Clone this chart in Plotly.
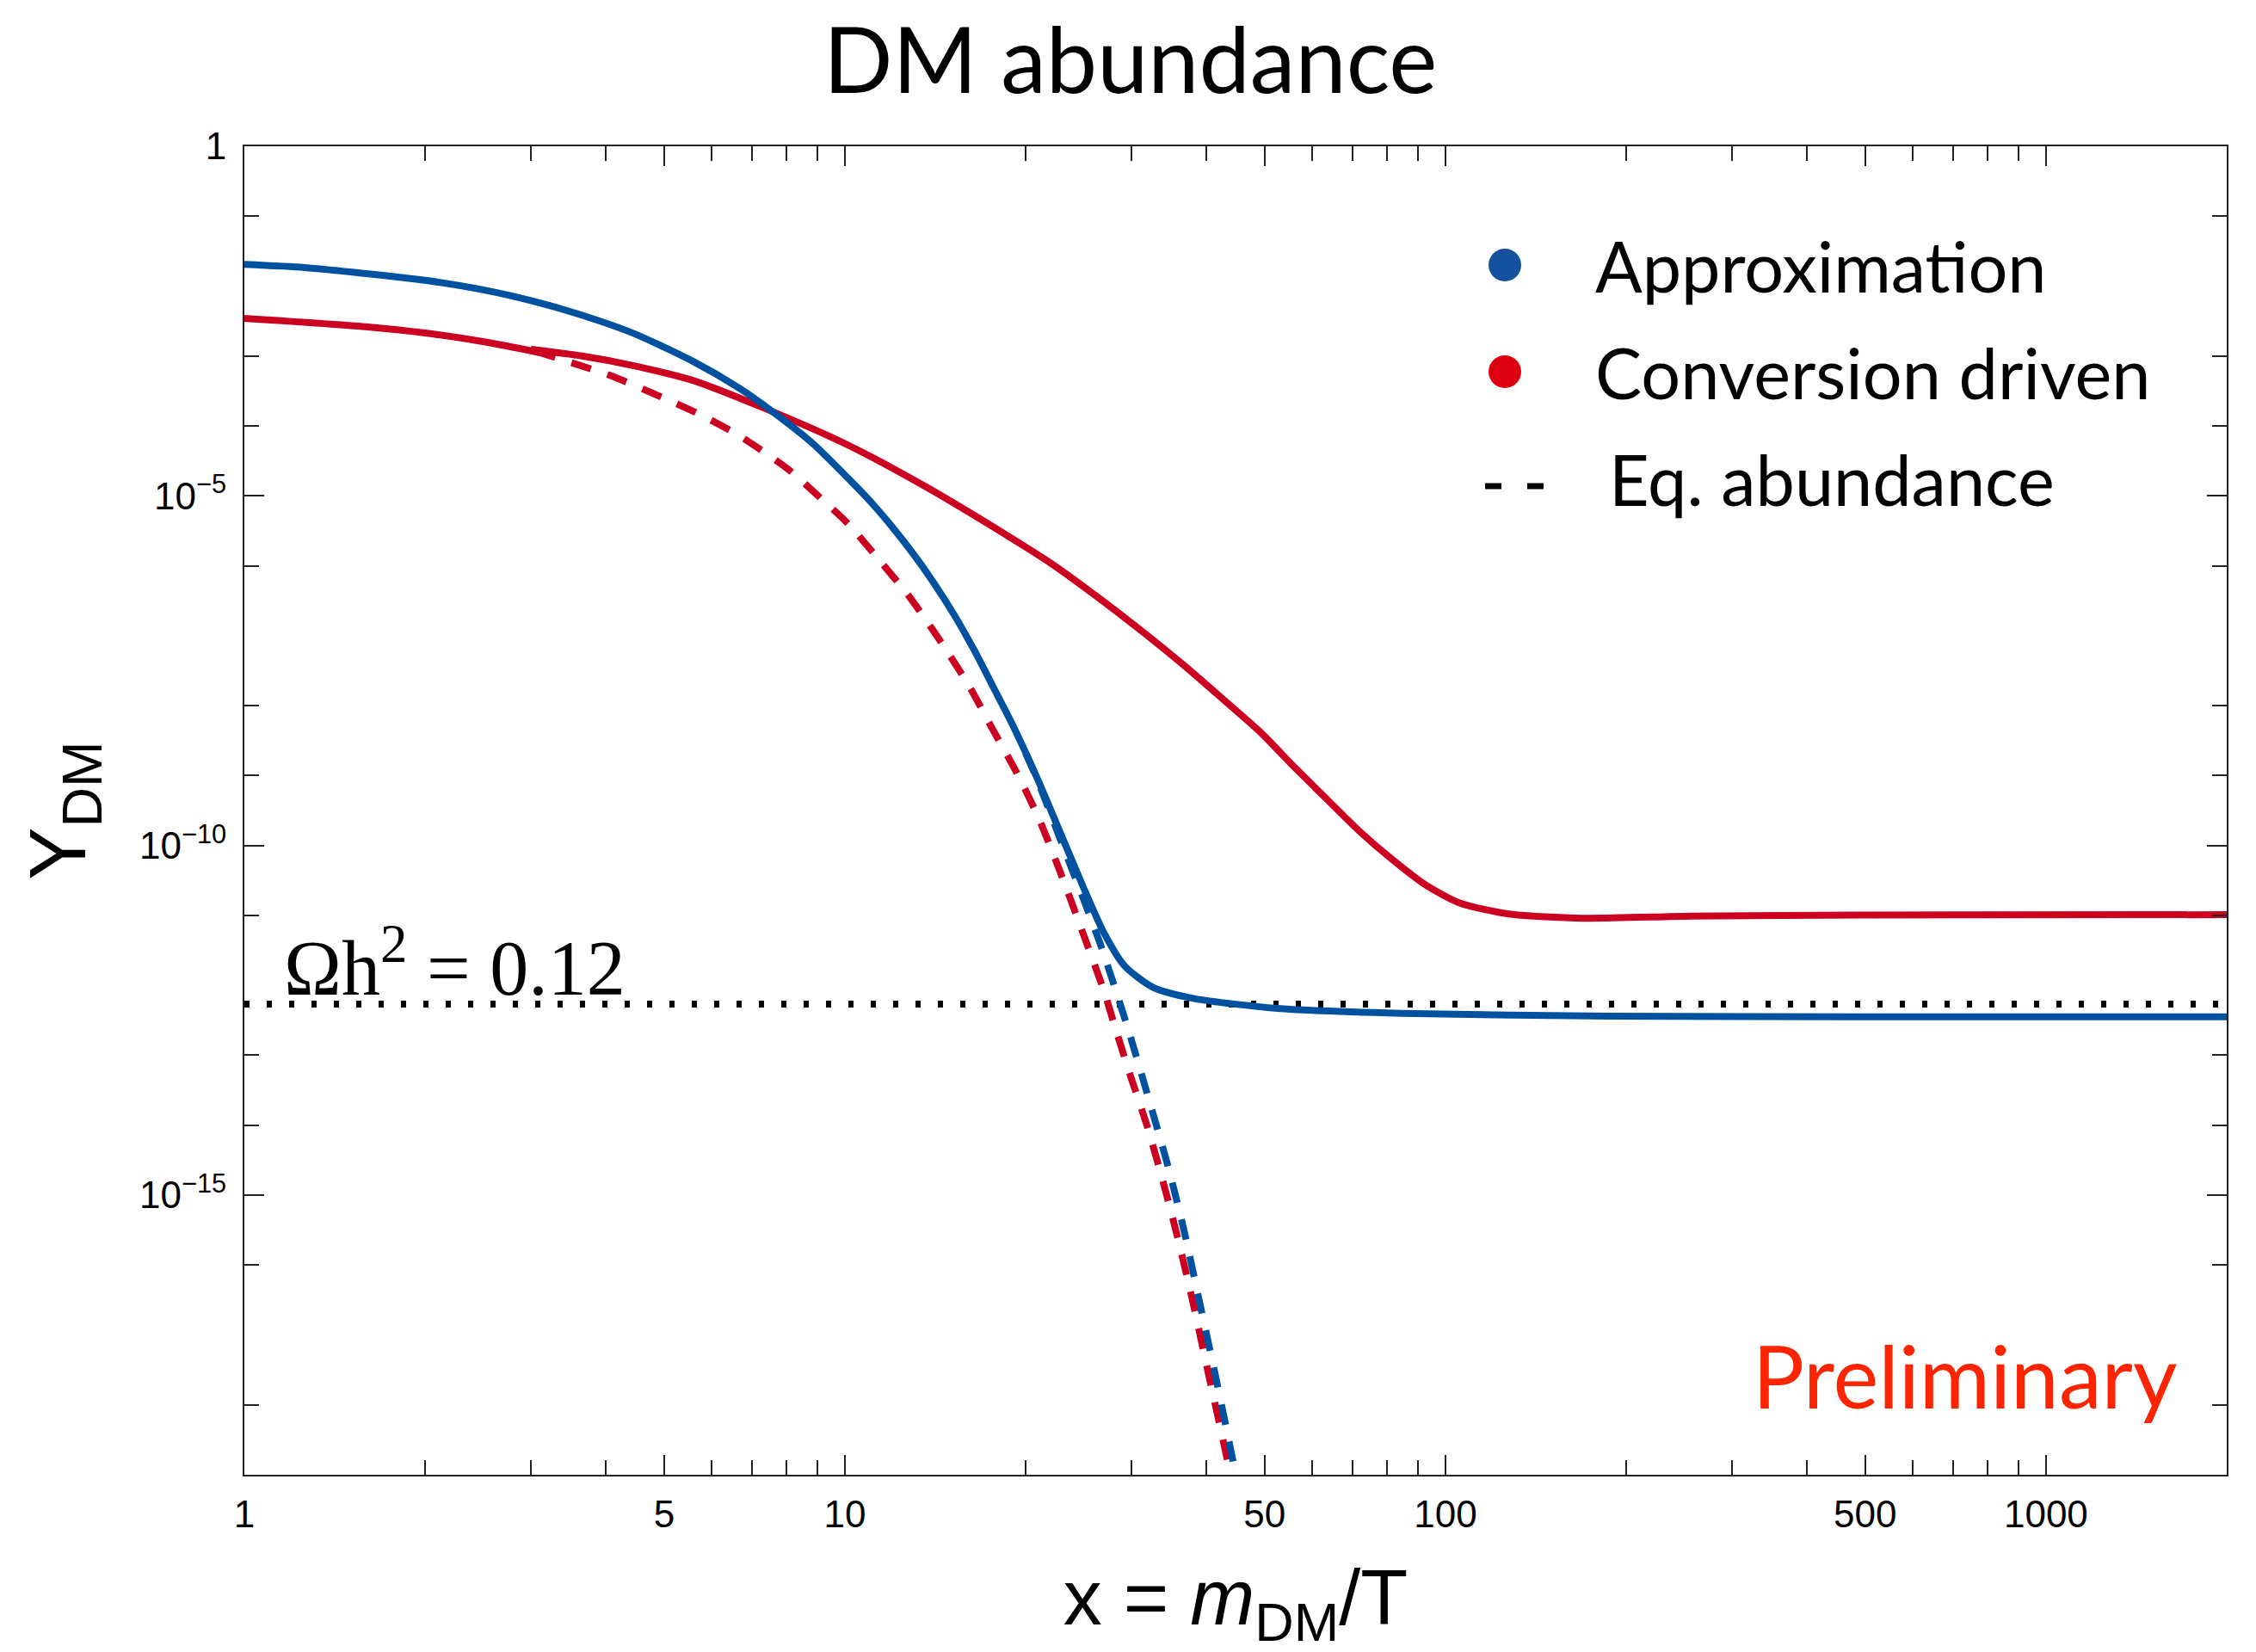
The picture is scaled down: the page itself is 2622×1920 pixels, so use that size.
import numpy as np
import plotly.graph_objects as go

# ---- data: x = m_DM / T, values given as log10(Y_DM) ----
# Approximation (solution)
approx_x = [1.0, 1.26, 1.59, 2.0, 2.52, 3.04, 3.57, 4.4, 5.54, 6.67, 7.48, 8.81,
            10.1, 11.0, 11.9, 13.0, 14.0, 15.2, 16.45, 17.7, 19.03, 20.93, 23.0,
            24.9, 27.0, 29.2, 32.6, 38.2, 52.5, 84.4, 186.5, 500.0, 2000.0]
approx_logy = [-1.69, -1.735, -1.82, -1.917, -2.06, -2.22, -2.39, -2.66, -3.06, -3.46,
               -3.76, -4.24, -4.74, -5.07, -5.41, -5.83, -6.22, -6.70, -7.22, -7.75,
               -8.28, -9.05, -9.88, -10.58, -11.25, -11.72, -12.03, -12.19, -12.33,
               -12.40, -12.44, -12.45, -12.45]

# Approximation, equilibrium abundance
approx_eq_x = [20.0, 21.0, 23.0, 25.0, 26.6, 28.2, 29.9, 32.2, 34.7, 36.8, 39.0,
               41.4, 44.2, 45.5]
approx_eq_logy = [-8.68, -9.10, -9.98, -10.78, -11.40, -12.05, -12.74, -13.68,
                  -14.66, -15.55, -16.55, -17.58, -18.77, -19.35]

# Conversion driven: early part (tracks equilibrium) and solution
conv_early_x = [1.0, 1.59, 2.0, 2.52, 3.1]
conv_early_logy = [-2.46, -2.58, -2.67, -2.80, -2.95]
conv_x = [3.0, 3.65, 4.4, 5.54, 7.31, 10.1, 13.7, 18.9, 22.0, 26.1, 31.6,
          37.0, 42.0, 49.2, 55.9, 63.5, 72.0, 81.8, 92.9, 105.4, 127.5, 169.6,
          255.9, 483.0, 2000.0]
conv_logy = [-2.905, -3.0, -3.13, -3.34, -3.74, -4.27, -4.88, -5.60, -5.96,
             -6.42, -6.97, -7.45, -7.86, -8.38, -8.87, -9.34, -9.80, -10.21, -10.57,
             -10.82, -10.98, -11.04, -11.01, -10.995, -10.99]

# Conversion driven, equilibrium abundance
conv_eq_x = [3.05, 3.61, 4.10, 5.05, 5.81, 6.67, 8.02, 9.0, 10.1, 11.36, 12.75, 14.3,
             16.1, 17.6, 19.3, 21.0, 23.0, 25.1, 27.0, 28.2, 29.9, 31.8, 33.7, 35.7,
             37.9, 40.2, 43.6, 44.6]
conv_eq_logy = [-2.93, -3.13, -3.29, -3.62, -3.86, -4.14, -4.61, -4.99, -5.39, -5.90,
                -6.42, -7.03, -7.72, -8.33, -8.95, -9.60, -10.45, -11.33, -12.08,
                -12.61, -13.30, -13.99, -14.74, -15.56, -16.50, -17.51, -18.89, -19.3]

# Relic abundance reference line (Omega h^2 = 0.12)
omega_x = [1.0, 2000.0]
omega_y = 5.4e-13

x_major = [1, 5, 10, 50, 100, 500, 1000]
x_major_text = ["1", "5", "10", "50", "100", "500", "1000"]
x_minor = [2, 3, 4, 6, 7, 8, 9, 20, 30, 40, 60, 70, 80, 90,
           200, 300, 400, 600, 700, 800, 900]
y_major_exp = [0, -5, -10, -15]
y_major_text = ["1", "10<sup>\u22125</sup>", "10<sup>\u221210</sup>", "10<sup>\u221215</sup>"]
y_minor_exp = [-1, -3, -4, -6, -8, -9, -11, -13, -14, -16, -18]

BLUE = "#0052a0"
RED = "#cc0020"
LINE_W = 8


def pw(vals):
    return [10.0 ** v for v in vals]


fig = go.Figure()

fig.add_trace(go.Scatter(x=omega_x, y=[omega_y, omega_y], mode="lines",
                         line=dict(color="black", width=8, dash="6px,20px"),
                         showlegend=False, hoverinfo="skip"))
fig.add_trace(go.Scatter(x=conv_eq_x, y=pw(conv_eq_logy), mode="lines",
                         line=dict(color=RED, width=LINE_W, dash="24px,20px",
                                   shape="spline", smoothing=0.7),
                         showlegend=False))
fig.add_trace(go.Scatter(x=conv_early_x + [None] + conv_x,
                         y=pw(conv_early_logy) + [None] + pw(conv_logy), mode="lines",
                         line=dict(color=RED, width=LINE_W, shape="spline", smoothing=0.7),
                         showlegend=False, connectgaps=False))
fig.add_trace(go.Scatter(x=approx_x, y=pw(approx_logy), mode="lines",
                         line=dict(color=BLUE, width=LINE_W, shape="spline", smoothing=0.7),
                         showlegend=False))
fig.add_trace(go.Scatter(x=approx_eq_x, y=pw(approx_eq_logy), mode="lines",
                         line=dict(color=BLUE, width=LINE_W, dash="24px,20px",
                                   shape="spline", smoothing=0.7),
                         showlegend=False))

# ---- layout geometry (pixels) ----
W, H = 2622, 1920
L, R, T, B = 284, 2588, 170, 1714
PW, PH = R - L, B - T


def px(xp):
    return (xp - L) / PW


def py(yp):
    return (B - yp) / PH


AX = "#222222"
tick_font = dict(family="Liberation Sans, Arial, sans-serif", size=44, color="black")

fig.update_layout(
    width=W, height=H,
    margin=dict(l=L, r=W - R, t=T, b=H - B, autoexpand=False),
    paper_bgcolor="white", plot_bgcolor="white",
    showlegend=False,
    xaxis=dict(type="log", range=[0, np.log10(2000)], tickmode="array",
               tickvals=x_major, ticktext=x_major_text, ticks="inside",
               ticklen=23, tickwidth=2, tickcolor=AX, tickfont=tick_font,
               minor=dict(tickmode="array", tickvals=x_minor, ticks="inside",
                          ticklen=17, tickwidth=2, tickcolor=AX, showgrid=False),
               showline=True, linecolor=AX, linewidth=2, mirror="ticks",
               showgrid=False, zeroline=False, ticklabelstandoff=6,
               title=dict(text="x = <i>m</i><sub>DM</sub>/T",
                          font=dict(family="Liberation Sans, Arial, sans-serif", size=90, color="black"),
                          standoff=85)),
    yaxis=dict(type="log", range=[-19, 0], tickmode="array",
               tickvals=[10.0 ** e for e in y_major_exp], ticktext=y_major_text,
               ticks="inside", ticklen=23, tickwidth=2, tickcolor=AX, tickfont=tick_font,
               minor=dict(tickmode="array", tickvals=[10.0 ** e for e in y_minor_exp],
                          ticks="inside", ticklen=17, tickwidth=2, tickcolor=AX, showgrid=False),
               showline=True, linecolor=AX, linewidth=2, mirror="ticks",
               showgrid=False, zeroline=False, ticklabelstandoff=10,
               title=dict(text="Y<sub>DM</sub>",
                          font=dict(family="Liberation Sans, Arial, sans-serif", size=92, color="black"),
                          standoff=32)),
)

annotations = [
    dict(text="DM abundance", x=px(1313), y=py(67), xref="paper", yref="paper",
         showarrow=False, xanchor="center", yanchor="middle",
         font=dict(family="Lato, sans-serif", size=106, color="black")),
    dict(text="\u03a9h<sup>2</sup> = 0.12", x=px(328), y=py(1118), xref="paper", yref="paper",
         showarrow=False, xanchor="left", yanchor="middle",
         font=dict(family="Liberation Serif, Times New Roman, serif", size=90, color="black")),
    dict(text="Preliminary", x=px(2533), y=py(1598), xref="paper", yref="paper",
         showarrow=False, xanchor="right", yanchor="middle",
         font=dict(family="Lato, sans-serif", size=100, color="#ff2400")),
]

legend_rows = [("Approximation", 308, 1852), ("Conversion driven", 432, 1852),
               ("Eq. abundance", 556, 1868)]
for label, yc, xl in legend_rows:
    annotations.append(dict(text=label, x=px(xl), y=py(yc), xref="paper", yref="paper",
                            showarrow=False, xanchor="left", yanchor="middle",
                            font=dict(family="Lato, sans-serif", size=81, color="black")))

fig.update_layout(annotations=annotations)

# legend symbols
shapes = []
r = 19
for yc, col in [(308, "#14519f"), (432, "#de0010")]:
    shapes.append(dict(type="circle", xref="paper", yref="paper",
                       x0=px(1749 - r), x1=px(1749 + r), y0=py(yc + r), y1=py(yc - r),
                       fillcolor=col, line=dict(width=0)))
for x0, x1 in [(1726, 1745), (1775, 1794)]:
    shapes.append(dict(type="line", xref="paper", yref="paper",
                       x0=px(x0), x1=px(x1), y0=py(565), y1=py(565),
                       line=dict(color="black", width=7)))
fig.update_layout(shapes=shapes)

fig.write_html("out.html")
